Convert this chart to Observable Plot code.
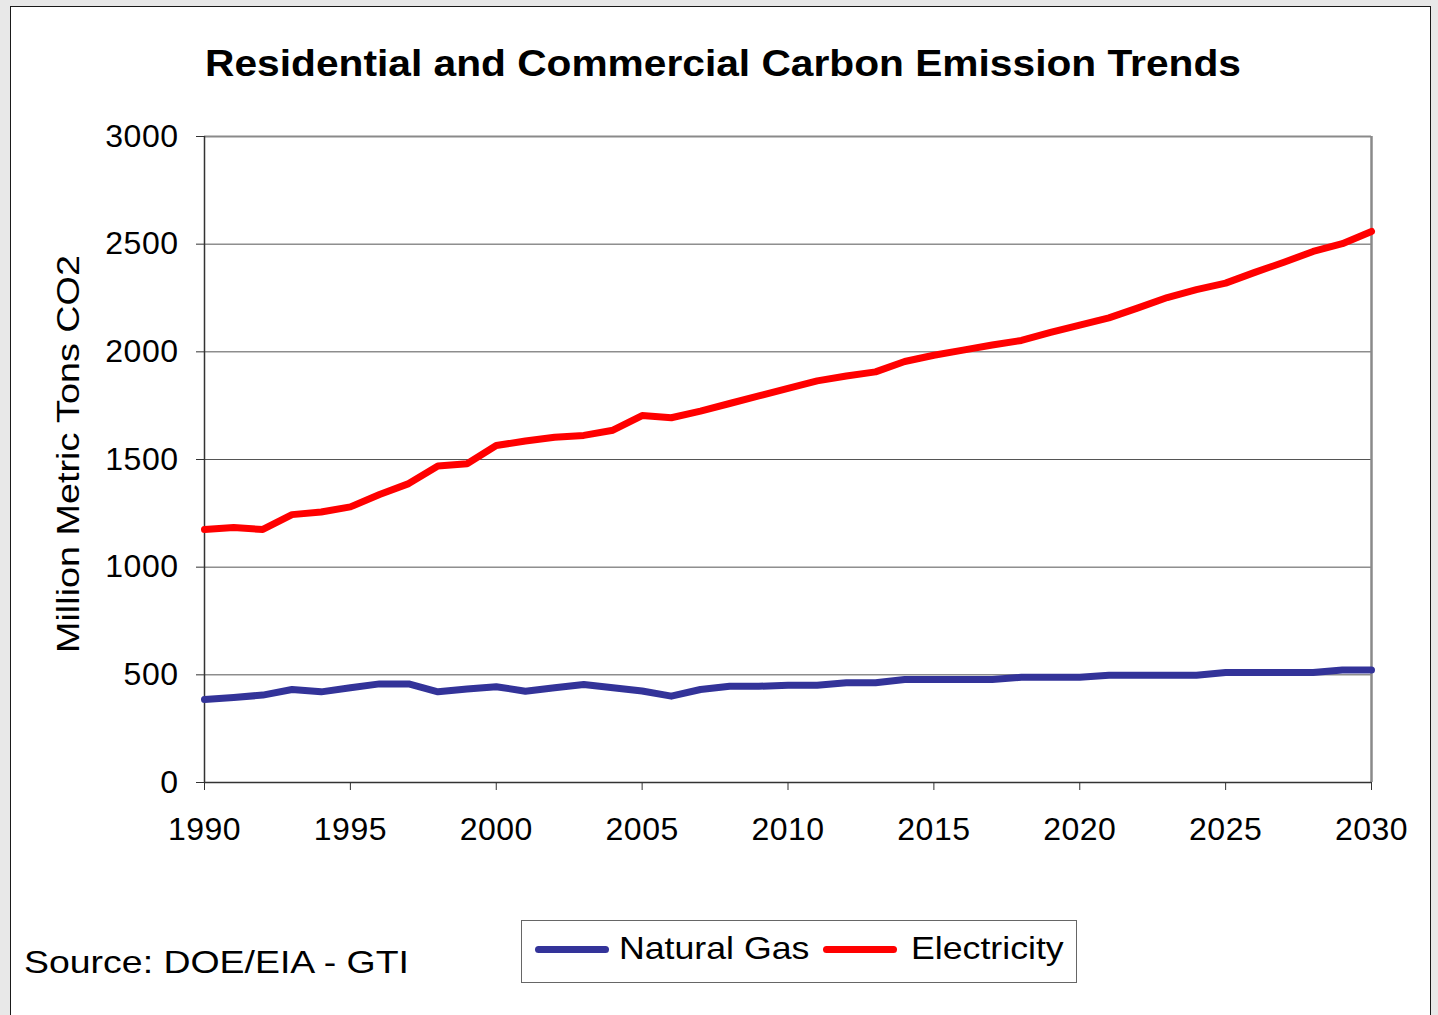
<!DOCTYPE html>
<html>
<head>
<meta charset="utf-8">
<script src="https://cdn.jsdelivr.net/npm/d3@7"></script>
<script src="https://cdn.jsdelivr.net/npm/@observablehq/plot@0.6"></script>
<style>
  html, body { margin: 0; padding: 0; background: #e8e8e8; }
  #page { position: relative; width: 1438px; height: 1015px; overflow: hidden; background: #e8e8e8; font-family: "Liberation Sans", Arial, sans-serif; }
  #panel { position: absolute; left: 10px; top: 6px; width: 1421px; height: 1020px; background: #fff; border: 1.5px solid #1a1a1a; box-sizing: border-box; }
  #chart { position: absolute; left: 0; top: 0; }
  #title { position: absolute; left: 0; width: 1446px; top: 43px; text-align: center; font-weight: bold; font-size: 36.5px; color: #000; white-space: nowrap; transform: scaleX(1.115); transform-origin: 723px 0; }
  #ytitle { position: absolute; left: 68px; top: 454px; transform: translate(-50%, -50%) rotate(-90deg) scaleX(1.18); font-size: 32px; white-space: nowrap; color: #000; }
  #source { position: absolute; left: 24px; top: 944px; font-size: 32px; white-space: nowrap; color: #000; transform: scaleX(1.17); transform-origin: 0 0; }
  #legend { position: absolute; left: 521px; top: 920px; width: 556px; height: 63px; box-sizing: border-box; border: 1.5px solid #666; background: #fff; }
  .sw { position: absolute; top: 25px; width: 74px; height: 7px; border-radius: 4px; }
  .lt { position: absolute; top: 9px; font-size: 32px; white-space: nowrap; transform: scaleX(1.115); transform-origin: 0 0; line-height: 37px; }
  #chart svg text { letter-spacing: 0.5px; }
</style>
</head>
<body>
<div id="page">
  <div id="panel"></div>
  <div id="chart"></div>
  <div id="title">Residential and Commercial Carbon Emission Trends</div>
  <div id="ytitle">Million Metric Tons CO2</div>
  <div id="source">Source: DOE/EIA - GTI</div>
  <div id="legend"></div>
</div>
<script>
const years = d3.range(1990, 2031);
const naturalGas = [385, 395, 406, 432, 421, 440, 458, 458, 421, 434,
                    445, 424, 440, 455, 440, 425, 401, 432, 447, 447,
                    452, 452, 463, 463, 478, 478, 478, 478, 489, 489,
                    489, 498, 498, 498, 498, 511, 511, 511, 511, 522, 522];
const electricity = [1175, 1184, 1175, 1244, 1256, 1280, 1337, 1388, 1470, 1480,
                     1565, 1586, 1603, 1612, 1636, 1704, 1694, 1725, 1760, 1795,
                     1830, 1865, 1888, 1907, 1955, 1984, 2008, 2032, 2053, 2090,
                     2124, 2158, 2204, 2252, 2289, 2319, 2369, 2416, 2466, 2502, 2559];
const xTicks = d3.range(1990, 2031, 5);
const yTicks = d3.range(0, 3001, 500);
const seriesNames = ["Natural Gas", "Electricity"];
const seriesColors = ["#333399", "#ff0000"];

const rows = [];
years.forEach((yr, i) => {
  rows.push({year: yr, value: naturalGas[i], series: seriesNames[0]});
  rows.push({year: yr, value: electricity[i], series: seriesNames[1]});
});

const chart = Plot.plot({
  width: 1438,
  height: 860,
  marginLeft: 204,
  marginRight: 67,
  marginTop: 136,
  marginBottom: 78,
  style: {background: "transparent", fontFamily: "'Liberation Sans', Arial, sans-serif", color: "#000"},
  x: {domain: [1990, 2030], label: null},
  y: {domain: [0, 3000], label: null},
  color: {domain: seriesNames, range: seriesColors},
  marks: [
    Plot.ruleY(yTicks.filter(d => d > 0 && d < 3000), {stroke: "#555", strokeWidth: 1}),
    Plot.ruleY([3000], {stroke: "#8a8a8a", strokeWidth: 2}),
    Plot.ruleX([2030], {stroke: "#8a8a8a", strokeWidth: 2.5}),
    Plot.axisY({ticks: yTicks, tickSize: 8, tickPadding: 18, fontSize: 32, tickFormat: d => String(d), label: null, stroke: "#333"}),
    Plot.axisX({ticks: xTicks, tickSize: 8, tickPadding: 27, fontSize: 32, tickFormat: d => String(d), label: null, stroke: "#333"}),
    Plot.ruleX([1990], {stroke: "#333", strokeWidth: 1.5}),
    Plot.ruleY([0], {stroke: "#333", strokeWidth: 1.5}),
    Plot.line(rows, {x: "year", y: "value", z: "series", stroke: "series", strokeWidth: 7, strokeLinecap: "round", strokeLinejoin: "round"})
  ]
});
document.getElementById("chart").appendChild(chart);

const legend = document.getElementById("legend");
const swLeft = [13, 301];
const txtLeft = [97, 389];
seriesNames.forEach((name, i) => {
  const sw = document.createElement("span");
  sw.className = "sw";
  sw.style.left = swLeft[i] + "px";
  sw.style.background = seriesColors[i];
  legend.appendChild(sw);
  const t = document.createElement("span");
  t.className = "lt";
  t.style.left = txtLeft[i] + "px";
  t.textContent = name;
  legend.appendChild(t);
});
</script>
</body>
</html>
